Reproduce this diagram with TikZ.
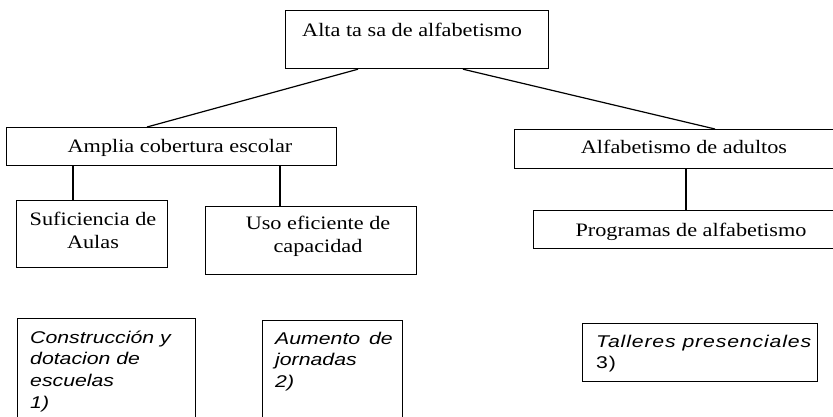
\documentclass[tikz,border=0pt]{standalone}
\usepackage{fontspec}
\setmainfont{Liberation Serif}[FakeStretch=1.17]
\newfontfamily\arialf{Liberation Sans}[FakeStretch=1.25]
\usetikzlibrary{calc}
\tikzset{
  box/.style={draw, line width=1.2pt, rectangle, inner sep=0pt, anchor=north west},
  serif/.style={font=\fontsize{19}{23}\selectfont, inner sep=0pt},
  ital/.style={font=\arialf\itshape\fontsize{17}{21.7}\selectfont, inner sep=0pt},
  link/.style={line width=1.2pt}
}
\begin{document}
\begin{tikzpicture}[x=1pt,y=-1pt]
\clip (0,0) rectangle (833,416);
\fill[white] (0,0) rectangle (833,416);
% boxes
\node[box, minimum width=263pt, minimum height=58pt] (top) at (285,10) {};
\node[box, minimum width=330pt, minimum height=38pt] (amp) at (6,127) {};
\node[box, minimum width=330pt, minimum height=39pt] (alf) at (514,129) {};
\node[box, minimum width=151pt, minimum height=67pt] (suf) at (16,200) {};
\node[box, minimum width=211pt, minimum height=68pt] (uso) at (205,206) {};
\node[box, minimum width=310pt, minimum height=38pt] (prog) at (533,210) {};
\node[box, minimum width=178pt, minimum height=110pt] (con) at (17,318) {};
\node[box, minimum width=140pt, minimum height=110pt] (aum) at (262,320) {};
\node[box, minimum width=235pt, minimum height=58pt] (tal) at (582,323) {};
% texts
\node[serif, anchor=base west] (ttop) at (302,36) {Alta ta sa de alfabetismo};
\node[serif, anchor=base] (tamp) at (180,152) {Amplia cobertura escolar};
\node[serif, anchor=base] (talf) at (684,153) {Alfabetismo de adultos};
\node[serif, anchor=base] (tprog) at (691,236) {Programas de alfabetismo};
\node[serif, anchor=base] (tsuf) at (93,225) {\parbox[t]{150pt}{\centering Suficiencia de\\Aulas}};
\node[serif, anchor=base] (tuso) at (318,229) {\parbox[t]{200pt}{\centering Uso eficiente de\\capacidad}};
\node[ital, anchor=base west] (tcon) at (30,343) {\parbox[t]{165pt}{\raggedright Construcción y\\dotacion de\\escuelas\\1)}};
\node[ital, anchor=base west] (taum) at (275,344) {\parbox[t]{125pt}{\raggedright Aumento\hspace{3pt} de\\jornadas\\2)}};
\node[ital, anchor=base west] (ttal) at (596,347) {\parbox[t]{220pt}{\raggedright\addfontfeature{LetterSpace=5}Talleres presenciales\\\upshape 3)}};
% connectors
\draw[link] ($(top.south west)+(73,0)$) -- ($(amp.north west)+(141,0)$);
\draw[link] ($(top.south west)+(178,0)$) -- ($(alf.north west)+(201,0)$);
\draw[link] ($(amp.south west)+(67,0)$) -- ($(suf.north west)+(57,0)$);
\draw[link] ($(amp.south west)+(274,0)$) -- ($(uso.north west)+(75,0)$);
\draw[link] ($(alf.south west)+(172,0)$) -- ($(prog.north west)+(153,0)$);
\end{tikzpicture}
\end{document}
